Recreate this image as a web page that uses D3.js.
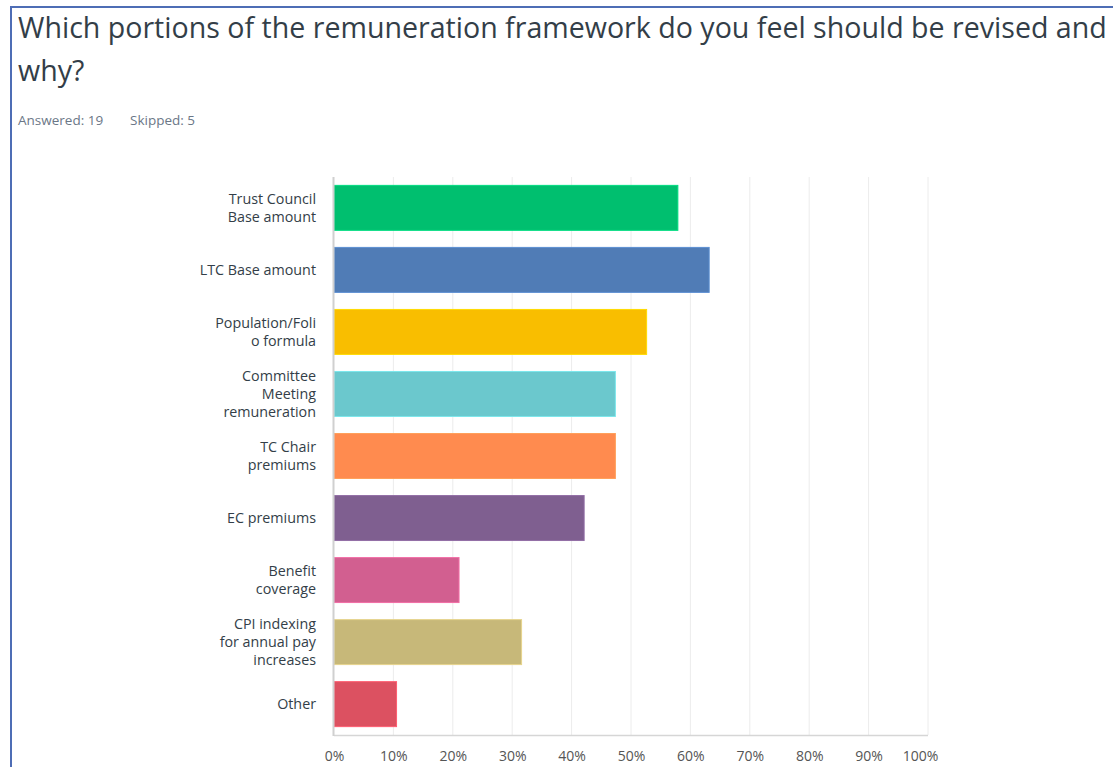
<!DOCTYPE html>
<html>
<head>
<meta charset="utf-8">
<script src="https://cdn.jsdelivr.net/npm/d3@7"></script>
<style>
  html, body { margin: 0; padding: 0; background: #fff; }
  svg { display: block; }
</style>
</head>
<body>
<svg id="chart" width="1113" height="767"></svg>
<script>
// Survey question and response counts
const titleLines = [
  "Which portions of the remuneration framework do you feel should be revised and",
  "why?"
];
const answered = 19;
const skipped = 5;

// Answer choices (line breaks as shown on the axis)
const categories = [
  "Trust Council\nBase amount",
  "LTC Base amount",
  "Population/Foli\no formula",
  "Committee\nMeeting\nremuneration",
  "TC Chair\npremiums",
  "EC premiums",
  "Benefit\ncoverage",
  "CPI indexing\nfor annual pay\nincreases",
  "Other"
];
// Share of respondents choosing each option (%)
const values = [57.89, 63.16, 52.63, 47.37, 47.37, 42.11, 21.05, 31.58, 10.53];
const colors = ["#00bf6f", "#507cb6", "#f9be00", "#6bc8cd", "#ff8b4f",
                "#7f5f90", "#d25f90", "#c7b879", "#dc5161"];
const tickValues = [0, 10, 20, 30, 40, 50, 60, 70, 80, 90, 100];

const svg = d3.select("#chart");
const font = "'Open Sans', 'Noto Sans', sans-serif";

// Panel frame (top and left edges)
svg.append("line").attr("x1", 11).attr("x2", 1113).attr("y1", 7).attr("y2", 7)
  .attr("stroke", "#4e6db5").attr("stroke-width", 2);
svg.append("line").attr("x1", 11).attr("x2", 11).attr("y1", 6).attr("y2", 767)
  .attr("stroke", "#4e6db5").attr("stroke-width", 2);

// Title, sized to fill the line width
const title = svg.append("g").attr("font-family", font).attr("fill", "#333e48");
const t1 = title.append("text").attr("x", 18).attr("y", 38).attr("font-size", 27).text(titleLines[0]);
const w = t1.node().getComputedTextLength();
const fs = 27 * 1089 / w;
t1.attr("font-size", fs);
title.append("text").attr("x", 18).attr("y", 81).attr("font-size", fs).text(titleLines[1]);

// Response summary
const meta = svg.append("g").attr("font-family", font).attr("font-size", 13.5).attr("fill", "#6b7787");
meta.append("text").attr("x", 18).attr("y", 125).text("Answered: " + answered);
meta.append("text").attr("x", 130).attr("y", 125).text("Skipped: " + skipped);

// Scales
const x = d3.scaleLinear().domain([0, 100]).range([334, 928]);
const y = d3.scaleBand().domain(categories).range([177, 735])
  .paddingInner(0.275).paddingOuter(0.135);

// Vertical gridlines
svg.append("g").selectAll("line").data(tickValues.slice(1)).join("line")
  .attr("x1", d => x(d)).attr("x2", d => x(d))
  .attr("y1", 177).attr("y2", 735)
  .attr("stroke", "#ececec").attr("stroke-width", 1);

// Bars
svg.append("g").selectAll("rect").data(values).join("rect")
  .attr("x", x(0))
  .attr("y", (d, i) => y(categories[i]))
  .attr("width", d => x(d) - x(0))
  .attr("height", y.bandwidth())
  .attr("fill", (d, i) => colors[i])
  .attr("stroke", (d, i) => d3.color(colors[i]).brighter(0.4))
  .attr("stroke-width", 1);

// Axis baselines
svg.append("line").attr("x1", x(0)).attr("x2", x(100)).attr("y1", 735.5).attr("y2", 735.5)
  .attr("stroke", "#d6d6d6").attr("stroke-width", 1.5);
svg.append("line").attr("x1", x(0) - 0.5).attr("x2", x(0) - 0.5).attr("y1", 177).attr("y2", 736)
  .attr("stroke", "#d0d0d0").attr("stroke-width", 2);

// X axis tick labels
const xAxis = d3.axisBottom(x).tickValues(tickValues).tickFormat(d => d + "%").tickSize(0).tickPadding(0);
const gx = svg.append("g").attr("transform", "translate(0,747)").call(xAxis);
gx.select(".domain").remove();
gx.selectAll("text").attr("font-family", font).attr("font-size", 14).attr("fill", "#555")
  .attr("dy", "1em")
  .attr("dx", d => d === 100 ? -8 : 0);

// Category labels, right aligned and centered on each bar
const lineH = 18;
const labels = svg.append("g").attr("font-family", font).attr("font-size", 14.3).attr("fill", "#333e48")
  .attr("text-anchor", "end");
categories.forEach(c => {
  const lines = c.split("\n");
  const cy = y(c) + y.bandwidth() / 2;
  const t = labels.append("text").attr("x", 316).attr("y", cy - (lines.length - 1) * lineH / 2 + 5);
  lines.forEach((ln, k) => {
    t.append("tspan").attr("x", 316).attr("dy", k === 0 ? 0 : lineH).text(ln);
  });
});
</script>
</body>
</html>
